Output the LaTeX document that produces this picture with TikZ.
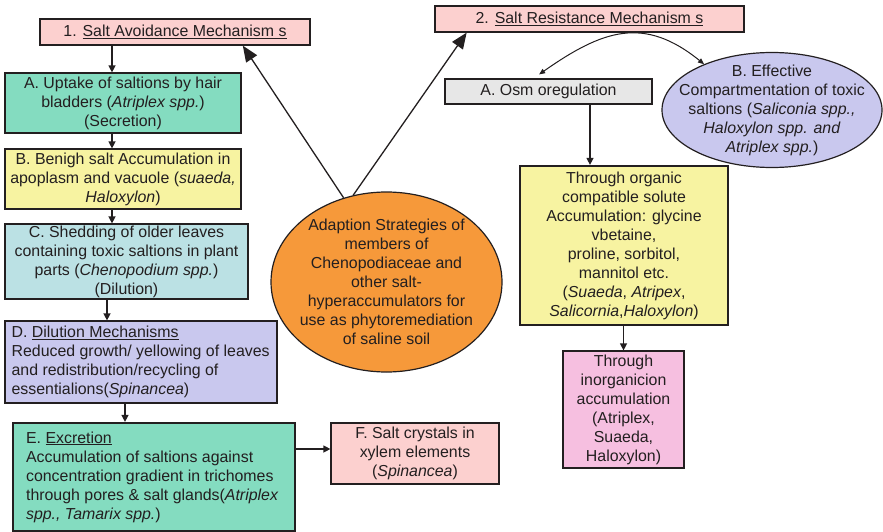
\documentclass[tikz,border=0pt]{standalone}
\usepackage{fontspec}
\setmainfont{Liberation Sans}
\usetikzlibrary{shapes.geometric,arrows.meta,calc}

\definecolor{ink}{HTML}{231F20}
\definecolor{saltpink}{HTML}{FCD0CF}
\definecolor{tealfill}{HTML}{84DCC0}
\definecolor{paleyellow}{HTML}{F7F3A1}
\definecolor{palecyan}{HTML}{BBE1E4}
\definecolor{lavender}{HTML}{C9C8EE}
\definecolor{palegray}{HTML}{E7E7E7}
\definecolor{orangefill}{HTML}{F6993A}
\definecolor{magentapink}{HTML}{F6BFE0}

\begin{document}
\begin{tikzpicture}[x=1pt,y=1pt,
  every node/.style={font=\fontsize{15.9}{19}\selectfont, text=ink},
  box/.style={draw=ink, line width=1.2pt, inner sep=0pt, align=center},
  thickbox/.style={box, line width=2.2pt},
  textblock/.style={anchor=west, align=left, inner sep=0pt},
  oval/.style={ellipse, draw=ink, line width=1.2pt, inner sep=0pt},
  arr/.style={draw=ink, line width=1.3pt, -{Triangle[length=7pt,width=7pt]}},
  bigarr/.style={draw=ink, line width=1.3pt, -{Triangle[length=16pt,width=13pt]}},
  bendarr/.style={draw=ink, line width=1pt, {Triangle[length=6pt,width=5pt]}-{Triangle[length=6pt,width=5pt]}}
]
\useasboundingbox (0,0) rectangle (883,-532);

% left branch: salt avoidance
\node[box, fill=saltpink, minimum width=270, minimum height=26] (avoid) at (175,-32)
  {1. \underline{Salt Avoidance Mechanism s}};
\node[box, fill=tealfill, minimum width=236, minimum height=60] (upA) at (123,-103)
  {A. Uptake of saltions by hair\\bladders (\textit{Atriplex spp.})\\(Secretion)};
\node[box, fill=paleyellow, minimum width=236, minimum height=60] (benB) at (123,-179)
  {B. Benigh salt Accumulation in\\apoplasm and vacuole (\textit{suaeda,}\\\textit{Haloxylon})};
\node[box, fill=palecyan, minimum width=243, minimum height=75] (shedC) at (126.5,-261.5)
  {C. Shedding of older leaves\\containing toxic saltions in plant\\parts (\textit{Chenopodium spp.})\\(Dilution)};
\node[box, fill=lavender, minimum width=272, minimum height=82] (dilD) at (141,-362) {};
\node[textblock] (dilDtext) at ([xshift=7pt]dilD.west)
  {D. \underline{Dilution Mechanisms}\\Reduced growth/ yellowing of leaves\\and redistribution/recycling of\\essentialions(\textit{Spinancea})};
\node[thickbox, fill=tealfill, minimum width=282, minimum height=108] (excE) at (154,-477) {};
\node[textblock] (excEtext) at ([xshift=14pt]excE.west)
  {E. \underline{Excretion}\\Accumulation of saltions against\\concentration gradient in trichomes\\through pores \& salt glands(\textit{Atriplex}\\\textit{spp., Tamarix spp.})};
\node[box, fill=saltpink, minimum width=168, minimum height=61] (cryF) at (415,-453.5)
  {F. Salt crystals in\\xylem elements\\(\textit{Spinancea})};

% centre
\node[oval, fill=orangefill, minimum width=231, minimum height=180] (core) at (386.5,-282) {};
\node[align=center, inner sep=0pt] (coretext) at (core.center)
  {Adaption Strategies of\\members of\\Chenopodiaceae and\\other salt-\\hyperaccumulators for\\use as phytoremediation\\of saline soil};

% right branch: salt resistance
\node[box, fill=saltpink, minimum width=309, minimum height=26] (resist) at (589.5,-19)
  {2. \underline{Salt Resistance Mechanism s}};
\node[box, fill=palegray, minimum width=207, minimum height=25] (osm) at (548.5,-91.5)
  {A. Osm oregulation};
\node[oval, fill=lavender, minimum width=220, minimum height=115] (effB) at (772,-110) {};
\node[align=center, inner sep=0pt] (efftext) at (effB.center)
  {B. Effective\\Compartmentation of toxic\\saltions (\textit{Saliconia spp.,}\\\textit{Haloxylon spp. and}\\\textit{Atriplex spp.})};
\node[thickbox, fill=paleyellow, minimum width=208, minimum height=159] (solute) at (624,-245.5)
  {Through organic\\compatible solute\\Accumulation: glycine\\vbetaine,\\proline, sorbitol,\\mannitol etc.\\(\textit{Suaeda}, \textit{Atripex},\\\textit{Salicornia},\textit{Haloxylon})};
\node[box, fill=magentapink, minimum width=121, minimum height=117] (inorg) at (623.5,-409.5)
  {Through\\inorganicion\\accumulation\\(Atriplex,\\Suaeda,\\Haloxylon)};

% guide positions for the connectors
\coordinate (xa) at (112,0);
\coordinate (xc) at (107,0);
\coordinate (xd) at (125,0);
\coordinate (xo) at (590,0);
\coordinate (ye) at (0,-449);
\coordinate (osmtop) at ($(osm.north west)!0.455!(osm.north east)+(0,4)$);

% connectors
\draw[arr] (avoid.south -| xa) -- (upA.north -| xa);
\draw[arr] (upA.south -| xa) -- (benB.north -| xa);
\draw[arr] (benB.south -| xa) -- (shedC.north -| xa);
\draw[arr] (shedC.south -| xc) -- (dilD.north -| xc);
\draw[arr] (dilD.south -| xd) -- (excE.north -| xd);
\draw[arr] (excE.east |- ye) -- (cryF.west |- ye);

\draw[bigarr] (core.117) -- ($(avoid.south west)!0.75!(avoid.south east)$);
\draw[bigarr] (core.111) -- ($(resist.south west)!0.104!(resist.south east)$);

\draw[bendarr] (osmtop) to[out=35, in=141, looseness=1.2] (effB.146);
\draw[arr] (osm.south -| xo) -- (solute.north -| xo);
\draw[arr] (solute.south -| inorg.north) -- (inorg.north);
\end{tikzpicture}
\end{document}
